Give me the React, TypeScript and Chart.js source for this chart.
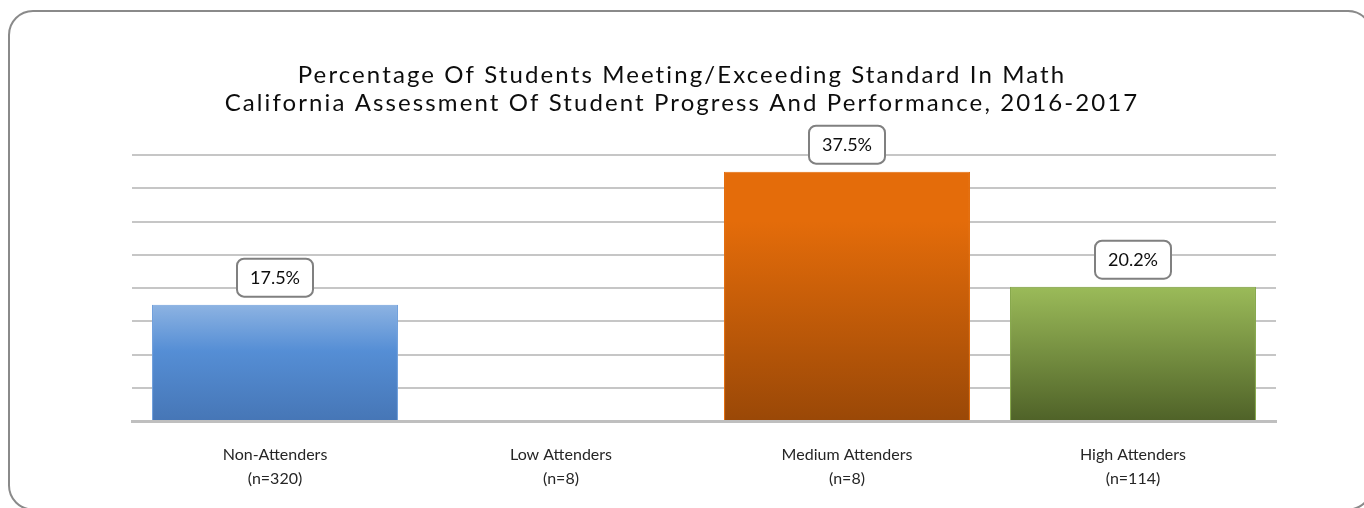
import React, { useEffect, useRef } from "react";
import { Chart, registerables } from "chart.js";

Chart.register(...registerables);

const titleLines = [
  "Percentage Of Students Meeting/Exceeding Standard In Math",
  "California Assessment Of Student Progress And Performance, 2016-2017",
];
const categoryNames = ["Non-Attenders", "Low Attenders", "Medium Attenders", "High Attenders"];
const categoryCounts = ["(n=320)", "(n=8)", "(n=8)", "(n=114)"];
const percentValues: (number | null)[] = [17.5, null, 37.5, 20.2];
const yMin = 0;
const yMax = 40;
const yStep = 5;

const gradientStops: [number, string][][] = [
  [[0, "#8db3e2"], [0.4, "#558ed5"], [1, "#4676b6"]],
  [[0, "#9bbb59"], [1, "#4f6228"]],
  [[0, "#e46c0a"], [0.2, "#e46c0a"], [1, "#9a4807"]],
  [[0, "#9bbb59"], [1, "#4f6228"]],
];
const borderColors = ["#6f9fdc", "#9bbb59", "#e46c0a", "#86a84a"];

const FONT = "Lato, 'Open Sans', sans-serif";

const frameAndTitle = {
  id: "frameAndTitle",
  beforeDraw(chart: any) {
    const ctx = chart.ctx as CanvasRenderingContext2D;
    ctx.save();
    ctx.fillStyle = "#ffffff";
    ctx.fillRect(0, 0, chart.width, chart.height);
    ctx.beginPath();
    (ctx as any).roundRect(9, 11, 1363, 498.5, 24);
    ctx.lineWidth = 2;
    ctx.strokeStyle = "#8a8a8a";
    ctx.stroke();
    ctx.fillStyle = "#0d0d0d";
    ctx.font = `24px ${FONT}`;
    (ctx as any).letterSpacing = "2.1px";
    ctx.textAlign = "center";
    ctx.textBaseline = "middle";
    const cx = chart.width / 2;
    ctx.fillText(titleLines[0], cx, 75);
    ctx.fillText(titleLines[1], cx, 103);
    ctx.restore();
  },
};

const valueLabels = {
  id: "valueLabels",
  afterDatasetsDraw(chart: any) {
    const ctx = chart.ctx as CanvasRenderingContext2D;
    const meta = chart.getDatasetMeta(0);
    ctx.save();
    ctx.font = `18px ${FONT}`;
    ctx.textAlign = "center";
    ctx.textBaseline = "middle";
    meta.data.forEach((bar: any, i: number) => {
      const v = percentValues[i];
      if (v == null) return;
      const text = v.toFixed(1) + "%";
      const w = ctx.measureText(text).width + 26;
      const h = 38;
      const x = bar.x - w / 2;
      const y = bar.y - 8 - h;
      ctx.beginPath();
      (ctx as any).roundRect(x, y, w, h, 7);
      ctx.fillStyle = "#ffffff";
      ctx.fill();
      ctx.lineWidth = 2;
      ctx.strokeStyle = "#808080";
      ctx.stroke();
      ctx.fillStyle = "#0d0d0d";
      ctx.fillText(text, bar.x, y + h / 2 + 1);
    });
    ctx.restore();
  },
};

export default function App() {
  const ref = useRef<HTMLCanvasElement | null>(null);

  useEffect(() => {
    document.body.style.margin = "0";
    const canvas = ref.current;
    if (!canvas) return;
    const chart = new Chart(canvas, {
      type: "bar",
      data: {
        labels: categoryNames.map((n, i) => [n, categoryCounts[i]]),
        datasets: [
          {
            data: percentValues as any,
            backgroundColor: (c: any) => {
              const ch = c.chart;
              const area = ch.chartArea;
              const i = c.dataIndex;
              const stops = gradientStops[i];
              const v = percentValues[i];
              if (!area || v == null) return stops[0][1];
              const top = ch.scales.y.getPixelForValue(v);
              const g = ch.ctx.createLinearGradient(0, top, 0, area.bottom);
              stops.forEach(([o, col]) => g.addColorStop(o, col));
              return g;
            },
            borderColor: borderColors,
            borderWidth: 1,
            barPercentage: 0.86,
            categoryPercentage: 1,
          },
        ],
      },
      options: {
        responsive: false,
        animation: false,
        layout: { padding: { left: 132, right: 88, top: 155, bottom: 0 } },
        plugins: {
          legend: { display: false },
          title: { display: false },
          tooltip: { enabled: false },
        },
        scales: {
          x: {
            afterFit: (scale: any) => {
              scale.height = 87;
            },
            grid: { display: false },
            border: { display: true, width: 3, color: "#bfbfbf" },
            ticks: {
              color: "#262626",
              font: { family: FONT, size: 16, lineHeight: 1.5 },
              padding: 14,
              maxRotation: 0,
              autoSkip: false,
            },
          },
          y: {
            min: yMin,
            max: yMax,
            ticks: { display: false, stepSize: yStep },
            grid: { color: "#c6c6c6", lineWidth: 2, drawTicks: false },
            border: { display: false },
          },
        },
      },
      plugins: [frameAndTitle, valueLabels],
    });
    return () => chart.destroy();
  }, []);

  return (
    <div style={{ width: 1364, height: 508, position: "relative" }}>
      <canvas ref={ref} width={1364} height={508} />
    </div>
  );
}
